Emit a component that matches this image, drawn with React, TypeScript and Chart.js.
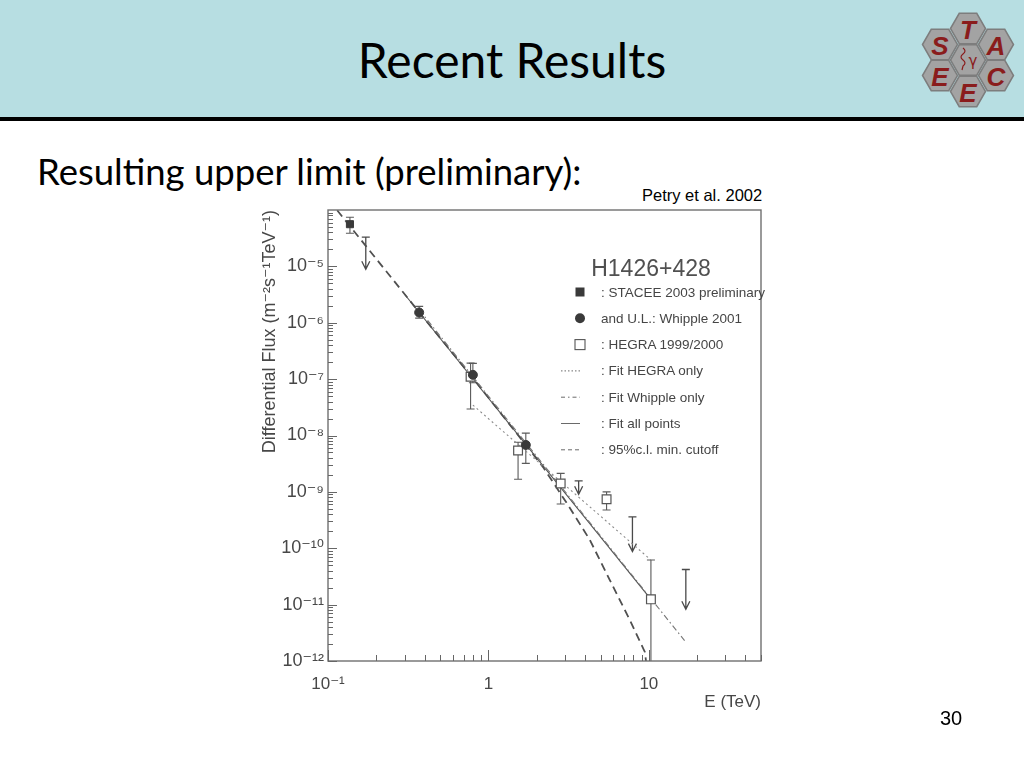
import React, { useEffect, useRef } from "react";
import { Chart, registerables } from "chart.js";

Chart.register(...registerables);

// ---------- axis ticks ----------
const xTickValues = [0.1, 1, 10];
const xTickLabels = ["10⁻¹", "1", "10"];
const yTickValues = [1e-12, 1e-11, 1e-10, 1e-9, 1e-8, 1e-7, 1e-6, 1e-5];
const yTickLabels = ["10⁻¹²", "10⁻¹¹", "10⁻¹⁰", "10⁻⁹", "10⁻⁸", "10⁻⁷", "10⁻⁶", "10⁻⁵"];
const xDecades = [0.1, 1, 10];
const yDecades = [1e-12, 1e-11, 1e-10, 1e-9, 1e-8, 1e-7, 1e-6, 1e-5];
const minorMultipliers = [1, 2, 3, 4, 5, 6, 7, 8, 9];

// ---------- data (E in TeV, flux in m^-2 s^-1 TeV^-1) ----------
const staceeE = [0.137];
const staceeF = [5.6e-5];
const staceeLo = [3.88e-5];
const staceeHi = [7.45e-5];

const whippleE = [0.37, 0.8, 1.71];
const whippleF = [1.52e-6, 1.19e-7, 6.8e-9];
const whippleLo = [1.21e-6, 8.6e-8, 3.2e-9];
const whippleHi = [1.95e-6, 1.9e-7, 1.1e-8];

const hegraE = [0.774, 1.53, 2.82, 5.45, 10.3];
const hegraF = [1.1e-7, 5.4e-9, 1.41e-9, 7.4e-10, 1.24e-11];
const hegraLo = [2.95e-8, 1.67e-9, 6.1e-10, 4.76e-10, 5e-13];
const hegraHi = [1.92e-7, 7.6e-9, 2.13e-9, 1.0e-9, 6.2e-11];

const ulE = [0.172, 3.65, 7.9, 17];
const ulTop = [3.3e-5, 1.57e-9, 3.6e-10, 4.2e-11];
const ulTip = [8.9e-6, 9.1e-10, 8.7e-11, 8.3e-12];

const fitHegraE = [0.8, 10.3];
const fitHegraF = [3.46e-8, 6.2e-11];
const fitWhippleE = [0.37, 16.7];
const fitWhippleF = [1.7e-6, 2.3e-12];
const fitAllE = [0.3, 10.3];
const fitAllF = [3.2e-6, 1.24e-11];
const cutoffE = [0.114, 0.369, 0.8, 1.71, 2.19, 3.08, 4.29, 5.71, 7.62, 9.44, 9.6];
const cutoffF = [9.9e-5, 1.55e-6, 1.05e-7, 6.8e-9, 2.75e-9, 6.3e-10, 1.4e-10, 2.73e-11, 5.3e-12, 1.45e-12, 1e-12];

const legendTitle = "H1426+428";
const legendLabels = [
  ": STACEE 2003 preliminary",
  "and U.L.: Whipple 2001",
  ": HEGRA 1999/2000",
  ": Fit HEGRA only",
  ": Fit Whipple only",
  ": Fit all points",
  ": 95%c.l. min. cutoff",
];
const legendKinds = ["fsquare", "circle", "osquare", "dotted", "dashdot", "solid", "dashed"];

const pts = (xs: number[], ys: number[]) => xs.map((x, i) => ({ x, y: ys[i] }));

const INK = "#474747";
const PLOT_FONT = "'Liberation Sans', 'DejaVu Sans', Arial, sans-serif";

const plotPlugin = {
  id: "plotExtras",
  beforeDatasetsDraw(chart: any) {
    const { ctx, chartArea: a, scales } = chart;
    const x = scales.x;
    const y = scales.y;
    ctx.save();
    ctx.beginPath();
    ctx.rect(a.left, a.top, a.right - a.left, a.bottom - a.top);
    ctx.clip();
    ctx.strokeStyle = "#5a5a5a";
    ctx.lineWidth = 1.1;
    const bar = (E: number, lo: number, hi: number) => {
      const px = x.getPixelForValue(E);
      const p1 = y.getPixelForValue(hi);
      const p2 = y.getPixelForValue(lo);
      ctx.beginPath();
      ctx.moveTo(px, p1);
      ctx.lineTo(px, p2);
      ctx.moveTo(px - 4, p1);
      ctx.lineTo(px + 4, p1);
      ctx.moveTo(px - 4, p2);
      ctx.lineTo(px + 4, p2);
      ctx.stroke();
    };
    staceeE.forEach((e, i) => bar(e, staceeLo[i], staceeHi[i]));
    whippleE.forEach((e, i) => bar(e, whippleLo[i], whippleHi[i]));
    hegraE.forEach((e, i) => bar(e, hegraLo[i], hegraHi[i]));
    ctx.strokeStyle = "#4a4a4a";
    ctx.lineWidth = 1.3;
    ulE.forEach((e, i) => {
      const px = x.getPixelForValue(e);
      const p1 = y.getPixelForValue(ulTop[i]);
      const p2 = y.getPixelForValue(ulTip[i]);
      ctx.beginPath();
      ctx.moveTo(px - 4, p1);
      ctx.lineTo(px + 4, p1);
      ctx.moveTo(px, p1);
      ctx.lineTo(px, p2);
      ctx.moveTo(px - 4, p2 - 8);
      ctx.lineTo(px, p2);
      ctx.lineTo(px + 4, p2 - 8);
      ctx.stroke();
    });
    ctx.restore();
  },
  afterDraw(chart: any) {
    const { ctx, chartArea: a, scales } = chart;
    const x = scales.x;
    const y = scales.y;
    ctx.save();
    ctx.strokeStyle = "#707070";
    ctx.lineWidth = 1.4;
    ctx.strokeRect(a.left, a.top, a.right - a.left, a.bottom - a.top);
    ctx.lineWidth = 1;
    ctx.strokeStyle = "#666";
    ctx.beginPath();
    xDecades.forEach((d) =>
      minorMultipliers.forEach((m) => {
        const v = d * m;
        if (v < x.min * 0.999 || v > x.max * 1.001) return;
        const px = Math.round(x.getPixelForValue(v)) + 0.5;
        const len = m === 1 ? 11 : 6;
        ctx.moveTo(px, a.bottom);
        ctx.lineTo(px, a.bottom - len);
      })
    );
    yDecades.forEach((d) =>
      minorMultipliers.forEach((m) => {
        const v = d * m;
        if (v < y.min * 0.999 || v > y.max * 1.001) return;
        const py = Math.round(y.getPixelForValue(v)) + 0.5;
        const len = m === 1 ? 9 : 5;
        ctx.moveTo(a.left, py);
        ctx.lineTo(a.left + len, py);
      })
    );
    ctx.stroke();
    ctx.restore();
  },
};

function PlotChart() {
  const ref = useRef<HTMLCanvasElement | null>(null);
  useEffect(() => {
    if (!ref.current) return;
    const chart = new Chart(ref.current, {
      type: "scatter",
      data: {
        datasets: [
          {
            label: "STACEE 2003 preliminary",
            data: pts(staceeE, staceeF),
            pointStyle: "rect",
            pointRadius: 5,
            backgroundColor: "#3a3a3a",
            borderColor: "#3a3a3a",
            borderWidth: 1,
          },
          {
            label: "Whipple 2001",
            data: pts(whippleE, whippleF),
            pointStyle: "circle",
            pointRadius: 4.5,
            backgroundColor: "#3a3a3a",
            borderColor: "#3a3a3a",
            borderWidth: 1,
          },
          {
            label: "HEGRA 1999/2000",
            data: pts(hegraE, hegraF),
            pointStyle: "rect",
            pointRadius: 6.2,
            backgroundColor: "#ffffff",
            borderColor: "#555",
            borderWidth: 1.2,
          },
          {
            label: "Fit HEGRA only",
            data: pts(fitHegraE, fitHegraF),
            showLine: true,
            pointRadius: 0,
            borderColor: "#8a8a8a",
            borderWidth: 1.1,
            borderDash: [2, 3],
          },
          {
            label: "Fit Whipple only",
            data: pts(fitWhippleE, fitWhippleF),
            showLine: true,
            pointRadius: 0,
            borderColor: "#777",
            borderWidth: 1.1,
            borderDash: [6, 3, 1.5, 3],
          },
          {
            label: "Fit all points",
            data: pts(fitAllE, fitAllF),
            showLine: true,
            pointRadius: 0,
            borderColor: "#505050",
            borderWidth: 1.1,
          },
          {
            label: "95%c.l. min. cutoff",
            data: pts(cutoffE, cutoffF),
            showLine: true,
            pointRadius: 0,
            borderColor: "#505050",
            borderWidth: 1.8,
            borderDash: [8, 5],
          },
        ],
      },
      options: {
        animation: false,
        responsive: false,
        maintainAspectRatio: false,
        layout: { padding: { left: 248, top: 210, right: 263, bottom: 47 } },
        plugins: { legend: { display: false }, tooltip: { enabled: false } },
        scales: {
          x: {
            type: "logarithmic",
            min: 0.1,
            max: 50,
            afterBuildTicks: (s: any) => {
              s.ticks = xTickValues.map((v) => ({ value: v }));
            },
            afterFit: (s: any) => {
              s.height = 60;
            },
            grid: { display: false, drawTicks: false },
            border: { display: false },
            ticks: {
              autoSkip: false,
              maxRotation: 0,
              padding: 13,
              color: INK,
              font: { family: PLOT_FONT, size: 17 },
              callback: (v: any) => {
                const i = xTickValues.findIndex((t) => Math.abs(t - v) / t < 1e-6);
                return i >= 0 ? xTickLabels[i] : "";
              },
            },
            title: {
              display: true,
              text: "E (TeV)",
              align: "end",
              color: INK,
              font: { family: PLOT_FONT, size: 17 },
              padding: { top: 0, bottom: 8 },
            },
          },
          y: {
            type: "logarithmic",
            min: 1e-12,
            max: 1e-4,
            afterBuildTicks: (s: any) => {
              s.ticks = yTickValues.map((v) => ({ value: v }));
            },
            afterFit: (s: any) => {
              s.width = 80;
            },
            grid: { display: false, drawTicks: false },
            border: { display: false },
            ticks: {
              autoSkip: false,
              padding: 4,
              color: INK,
              font: { family: PLOT_FONT, size: 18 },
              callback: (v: any) => {
                const i = yTickValues.findIndex((t) => Math.abs(t - v) / t < 1e-6);
                return i >= 0 ? yTickLabels[i] : "";
              },
            },
            title: {
              display: true,
              text: "Differential Flux (m⁻²s⁻¹TeV⁻¹)",
              align: "end",
              color: INK,
              font: { family: PLOT_FONT, size: 18 },
              padding: { top: 11, bottom: 0 },
            },
          },
        },
      },
      plugins: [plotPlugin],
    } as any);
    return () => chart.destroy();
  }, []);
  return (
    <canvas
      ref={ref}
      width={1024}
      height={768}
      style={{ position: "absolute", left: 0, top: 0, width: 1024, height: 768 }}
    />
  );
}

function Legend() {
  const rowY = (i: number) => 292 + i * 26.3;
  return (
    <svg
      width={1024}
      height={768}
      style={{ position: "absolute", left: 0, top: 0, pointerEvents: "none" }}
    >
      <text x={651} y={268} textAnchor="middle" dominantBaseline="central" fontFamily={PLOT_FONT} fontSize={23} fill="#505050">
        {legendTitle}
      </text>
      {legendLabels.map((label, i) => {
        const yy = rowY(i);
        const k = legendKinds[i];
        let marker: any = null;
        if (k === "fsquare") marker = <rect x={575.5} y={yy - 4.5} width={9} height={9} fill="#3a3a3a" />;
        else if (k === "circle") marker = <circle cx={580} cy={yy} r={5} fill="#3a3a3a" />;
        else if (k === "osquare") marker = <rect x={575} y={yy - 5} width={10} height={10} fill="#fff" stroke="#555" strokeWidth={1.1} />;
        else {
          const dash = k === "dotted" ? "1.5 2" : k === "dashdot" ? "4 3 1.5 3" : k === "dashed" ? "4 3" : undefined;
          marker = <line x1={561} x2={580} y1={yy} y2={yy} stroke="#6a6a6a" strokeWidth={1} strokeDasharray={dash} />;
        }
        return (
          <g key={i}>
            {marker}
            <text x={601} y={yy} dominantBaseline="central" fontFamily={PLOT_FONT} fontSize={13.5} fill="#454545">
              {label}
            </text>
          </g>
        );
      })}
    </svg>
  );
}

function Logo() {
  const r = 17.5;
  const hex = (cx: number, cy: number) => {
    const p = [
      [cx - r, cy],
      [cx - r / 2, cy - r * 0.866],
      [cx + r / 2, cy - r * 0.866],
      [cx + r, cy],
      [cx + r / 2, cy + r * 0.866],
      [cx - r / 2, cy + r * 0.866],
    ];
    return p.map((q) => q.join(",")).join(" ");
  };
  const cells: [number, number, string][] = [
    [968, 28.5, "T"],
    [940, 44.5, "S"],
    [996, 44.5, "A"],
    [968, 60, ""],
    [940, 75.5, "E"],
    [996, 75.5, "C"],
    [968, 91.5, "E"],
  ];
  return (
    <svg width={1024} height={120} style={{ position: "absolute", left: 0, top: 0 }}>
      {cells.map(([cx, cy, t], i) => (
        <g key={i}>
          <polygon points={hex(cx, cy)} fill="#a3a3a3" stroke="#7d7d7d" strokeWidth={1.5} />
          {t ? (
            <text x={cx} y={cy + 1} textAnchor="middle" dominantBaseline="central" fontFamily="'Liberation Sans', Arial, sans-serif" fontWeight="bold" fontStyle="italic" fontSize={26} fill="#8a1c1c">
              {t}
            </text>
          ) : null}
        </g>
      ))}
      <path d="M963 48 q4 3 0 6 q-4 3 0 6 q4 3 0 6 l-1 4" fill="none" stroke="#8a1c1c" strokeWidth={1.2} />
      <text x={973} y={61} textAnchor="middle" dominantBaseline="central" fontFamily="'DejaVu Sans', sans-serif" fontSize={15} fill="#8a1c1c">
        γ
      </text>
    </svg>
  );
}

export default function App() {
  return (
    <div style={{ position: "fixed", left: 0, top: 0, width: 1024, height: 768, background: "#fff", overflow: "hidden" }}>
      <div style={{ position: "absolute", left: 0, top: 0, width: 1024, height: 117, background: "#b7dee2" }} />
      <div style={{ position: "absolute", left: 0, top: 117, width: 1024, height: 4, background: "#000" }} />
      <div
        style={{
          position: "absolute",
          left: 0,
          width: 1024,
          top: 30,
          textAlign: "center",
          fontFamily: "Lato, 'Open Sans', sans-serif",
          fontSize: 48,
          lineHeight: "60px",
          color: "#000",
        }}
      >
        Recent Results
      </div>
      <Logo />
      <div
        style={{
          position: "absolute",
          left: 37,
          top: 149,
          fontFamily: "Lato, 'Open Sans', sans-serif",
          fontSize: 36.5,
          lineHeight: "44px",
          color: "#000",
          whiteSpace: "nowrap",
        }}
      >
        Resulting upper limit (preliminary):
      </div>
      <div
        style={{
          position: "absolute",
          left: 642,
          top: 185,
          fontFamily: "'Liberation Sans', Arial, sans-serif",
          fontSize: 16.5,
          lineHeight: "20px",
          color: "#000",
          whiteSpace: "nowrap",
        }}
      >
        Petry et al. 2002
      </div>
      <PlotChart />
      <Legend />
      <div
        style={{
          position: "absolute",
          left: 940,
          top: 705,
          fontFamily: "'Liberation Sans', Arial, sans-serif",
          fontSize: 20,
          lineHeight: "26px",
          color: "#000",
        }}
      >
        30
      </div>
    </div>
  );
}
